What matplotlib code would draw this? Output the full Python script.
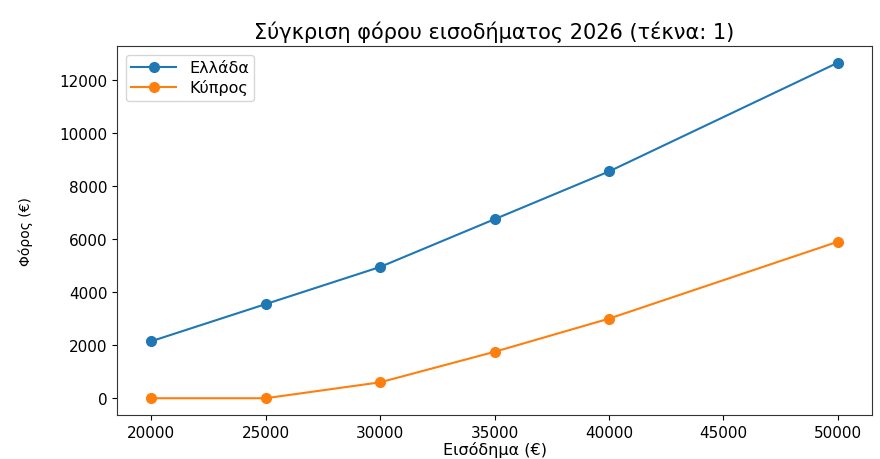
import matplotlib
matplotlib.use("Agg")
import matplotlib.pyplot as plt

incomes = [20000, 25000, 30000, 35000, 40000, 50000]
greece_tax = [2150, 3550, 4950, 6750, 8550, 12650]
cyprus_tax = [0, 0, 600, 1750, 3000, 5900]
series_labels = ["Ελλάδα", "Κύπρος"]
title = "Σύγκριση φόρου εισοδήματος 2026 (τέκνα: 1)"
xlabel = "Εισόδημα (€)"
ylabel = "Φόρος (€)"

plt.rcParams['font.family'] = ['DejaVu Sans']
W, H = 880, 460
fig = plt.figure(figsize=(8.8, 4.6), dpi=100)
left, right, top, bottom = 117, 872, 47, 416
ax = fig.add_axes([left / W, 1 - bottom / H, (right - left) / W, (bottom - top) / H])
ax.plot(incomes, greece_tax, marker='o', markersize=7, linewidth=1.5,
        color='#1f77b4', label=series_labels[0])
ax.plot(incomes, cyprus_tax, marker='o', markersize=7, linewidth=1.5,
        color='#ff7f0e', label=series_labels[1])
ax.set_title(title, fontsize=15, pad=6)
ax.set_xlabel(xlabel, fontsize=11.5, labelpad=1)
ax.set_ylabel(ylabel, fontsize=10)
ax.yaxis.set_label_coords((33 - left) / (right - left), 0.5)
ax.tick_params(labelsize=11)
for s in ax.spines.values():
    s.set_color('#333333')
ax.legend(loc='upper left', fontsize=11.5, handlelength=2.8,
          labelspacing=0.25, borderpad=0.35, borderaxespad=0.55)
fig.savefig("out.png", dpi=100)
